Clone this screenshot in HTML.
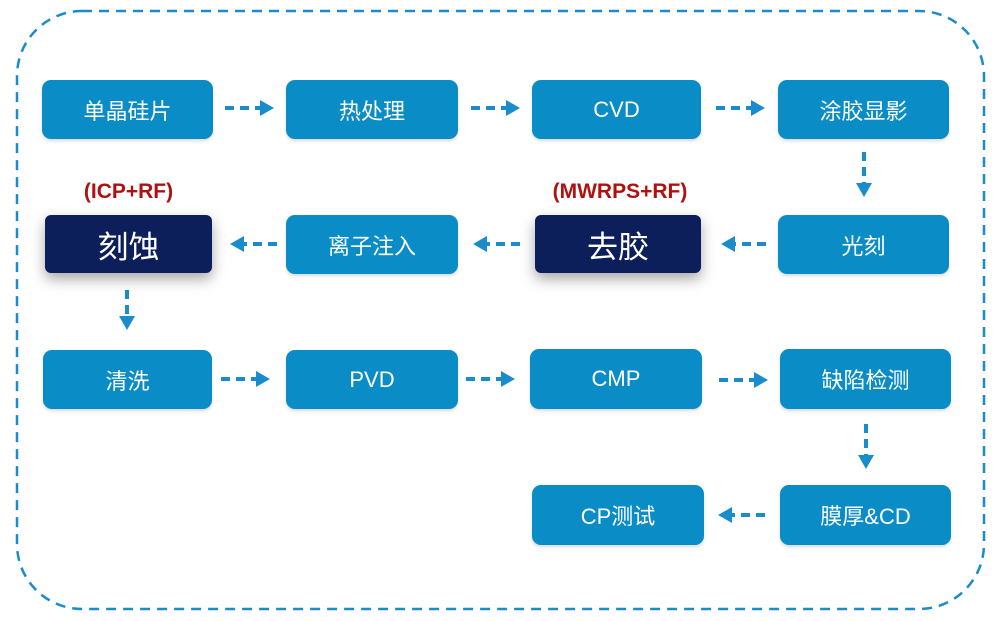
<!DOCTYPE html>
<html><head><meta charset="utf-8"><style>
body{margin:0;width:1001px;height:621px;background:#fff;overflow:hidden;position:relative;font-family:"Liberation Sans","Noto Sans CJK SC",sans-serif}
.b{position:absolute;background:#0a8cc6;color:#fff;border-radius:9px;display:flex;align-items:center;justify-content:center;font-size:22px;box-shadow:0 2px 3px rgba(0,0,0,.15)}
.d{background:#0d1f5a;font-size:31px;border-radius:6px;box-shadow:0 6px 14px rgba(0,0,0,.35)}
.r{position:absolute;color:#b01010;font-weight:bold;font-size:21px;text-align:center}
svg{position:absolute;left:0;top:0}
</style></head><body>
<svg width="1001" height="621">
<rect x="17" y="11" width="967" height="598" rx="65" fill="none" stroke="#1a8ccc" stroke-width="2.5" stroke-dasharray="10,7"/>
<g stroke="#1a8ccc" stroke-width="4" stroke-dasharray="9,6" fill="none">
<line x1="225" y1="108" x2="262" y2="108"/><line x1="471" y1="108" x2="508" y2="108"/><line x1="716" y1="108" x2="753" y2="108"/>
<line x1="864" y1="152" x2="864" y2="185"/>
<line x1="766" y1="244" x2="733" y2="244"/><line x1="520" y1="244" x2="485" y2="244"/><line x1="277" y1="244" x2="242" y2="244"/>
<line x1="127" y1="290" x2="127" y2="318"/>
<line x1="221" y1="379" x2="258" y2="379"/><line x1="466" y1="379" x2="503" y2="379"/><line x1="719" y1="380" x2="756" y2="380"/>
<line x1="866" y1="424" x2="866" y2="457"/>
<line x1="765" y1="515" x2="730" y2="515"/>
</g>
<g fill="#1a8ccc">
<polygon points="260,100 274,108 260,116"/><polygon points="506,100 520,108 506,116"/><polygon points="751,100 765,108 751,116"/>
<polygon points="856,183 864,197 872,183"/>
<polygon points="735,236 721,244 735,252"/><polygon points="487,236 473,244 487,252"/><polygon points="244,236 230,244 244,252"/>
<polygon points="119,316 127,330 135,316"/>
<polygon points="256,371 270,379 256,387"/><polygon points="501,371 515,379 501,387"/><polygon points="754,372 768,380 754,388"/>
<polygon points="858,455 866,469 874,455"/>
<polygon points="732,507 718,515 732,523"/>
</g>
</svg>
<div class="b" style="left:42px;top:80px;width:171px;height:59px">单晶硅片</div>
<div class="b" style="left:286px;top:80px;width:172px;height:59px">热处理</div>
<div class="b" style="left:532px;top:80px;width:169px;height:59px">CVD</div>
<div class="b" style="left:778px;top:80px;width:171px;height:59px">涂胶显影</div>
<div class="r" style="left:45px;top:180px;width:167px">(ICP+RF)</div>
<div class="r" style="left:520px;top:180px;width:200px">(MWRPS+RF)</div>
<div class="b d" style="left:45px;top:215px;width:167px;height:58px">刻蚀</div>
<div class="b" style="left:286px;top:215px;width:172px;height:59px">离子注入</div>
<div class="b d" style="left:535px;top:215px;width:166px;height:58px">去胶</div>
<div class="b" style="left:778px;top:215px;width:171px;height:59px">光刻</div>
<div class="b" style="left:43px;top:350px;width:169px;height:59px">清洗</div>
<div class="b" style="left:286px;top:350px;width:172px;height:59px">PVD</div>
<div class="b" style="left:530px;top:349px;width:172px;height:60px">CMP</div>
<div class="b" style="left:780px;top:349px;width:171px;height:60px">缺陷检测</div>
<div class="b" style="left:532px;top:485px;width:172px;height:60px">CP测试</div>
<div class="b" style="left:780px;top:485px;width:171px;height:60px">膜厚&amp;CD</div>
</body></html>
